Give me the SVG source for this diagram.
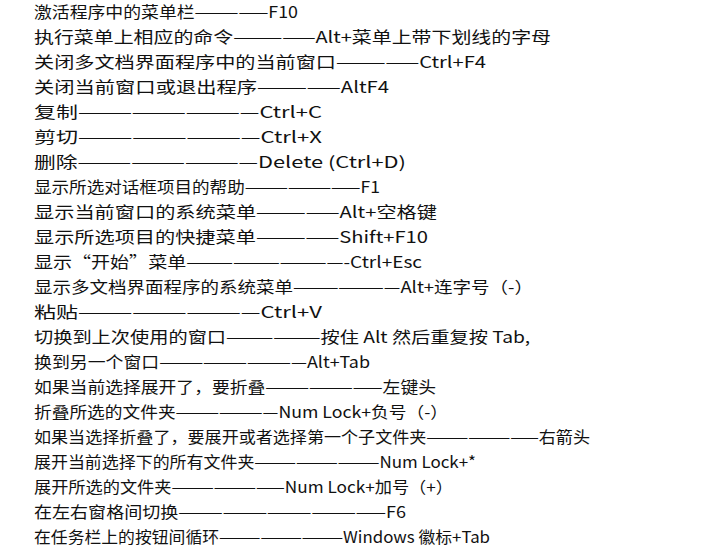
<svg xmlns="http://www.w3.org/2000/svg" width="717" height="552" viewBox="0 0 717 552">
<style>
text{font-family:"Noto Sans CJK SC","Liberation Mono",sans-serif;font-size:16px;fill:#111}
</style>
<rect width="717" height="552" fill="#fff"/>
<g id="lines">
<text x="34" y="18" textLength="264" lengthAdjust="spacingAndGlyphs">激活程序中的菜单栏—————F10</text>
<text x="34" y="43" textLength="517" lengthAdjust="spacingAndGlyphs">执行菜单上相应的命令—————Alt+菜单上带下划线的字母</text>
<text x="34" y="68" textLength="452" lengthAdjust="spacingAndGlyphs">关闭多文档界面程序中的当前窗口—————Ctrl+F4</text>
<text x="34" y="93" textLength="355" lengthAdjust="spacingAndGlyphs">关闭当前窗口或退出程序—————AltF4</text>
<text x="34" y="118" textLength="288" lengthAdjust="spacingAndGlyphs">复制——————————Ctrl+C</text>
<text x="34" y="143" textLength="288" lengthAdjust="spacingAndGlyphs">剪切——————————Ctrl+X</text>
<text x="34" y="168" textLength="372" lengthAdjust="spacingAndGlyphs">删除——————————Delete (Ctrl+D)</text>
<text x="34" y="193" textLength="346" lengthAdjust="spacingAndGlyphs">显示所选对话框项目的帮助————————F1</text>
<text x="34" y="218" textLength="403" lengthAdjust="spacingAndGlyphs">显示当前窗口的系统菜单—————Alt+空格键</text>
<text x="34" y="243" textLength="394" lengthAdjust="spacingAndGlyphs">显示所选项目的快捷菜单—————Shift+F10</text>
<text x="34" y="268" textLength="388" lengthAdjust="spacingAndGlyphs">显示“开始”菜单——————————-Ctrl+Esc</text>
<text x="34" y="293" textLength="499" lengthAdjust="spacingAndGlyphs">显示多文档界面程序的系统菜单———————Alt+连字号（-）</text>
<text x="34" y="318" textLength="288" lengthAdjust="spacingAndGlyphs">粘贴——————————Ctrl+V</text>
<text x="34" y="343" textLength="496" lengthAdjust="spacingAndGlyphs">切换到上次使用的窗口——————按住 Alt 然后重复按 Tab,</text>
<text x="34" y="368" textLength="336" lengthAdjust="spacingAndGlyphs">换到另一个窗口——————————Alt+Tab</text>
<text x="34" y="393" textLength="402" lengthAdjust="spacingAndGlyphs">如果当前选择展开了，要折叠————————左键头</text>
<text x="34" y="418" textLength="414" lengthAdjust="spacingAndGlyphs">折叠所选的文件夹———————Num Lock+负号（-）</text>
<text x="34" y="443" textLength="556" lengthAdjust="spacingAndGlyphs">如果当选择折叠了，要展开或者选择第一个子文件夹————————右箭头</text>
<text x="34" y="468" textLength="442" lengthAdjust="spacingAndGlyphs">展开当前选择下的所有文件夹—————————Num Lock+*</text>
<text x="34" y="493" textLength="419" lengthAdjust="spacingAndGlyphs">展开所选的文件夹————————Num Lock+加号（+）</text>
<text x="34" y="518" textLength="372" lengthAdjust="spacingAndGlyphs">在左右窗格间切换——————————————F6</text>
<text x="34" y="543" textLength="456" lengthAdjust="spacingAndGlyphs">在任务栏上的按钮间循环—————————Windows 徽标+Tab</text>
</g>
</svg>
